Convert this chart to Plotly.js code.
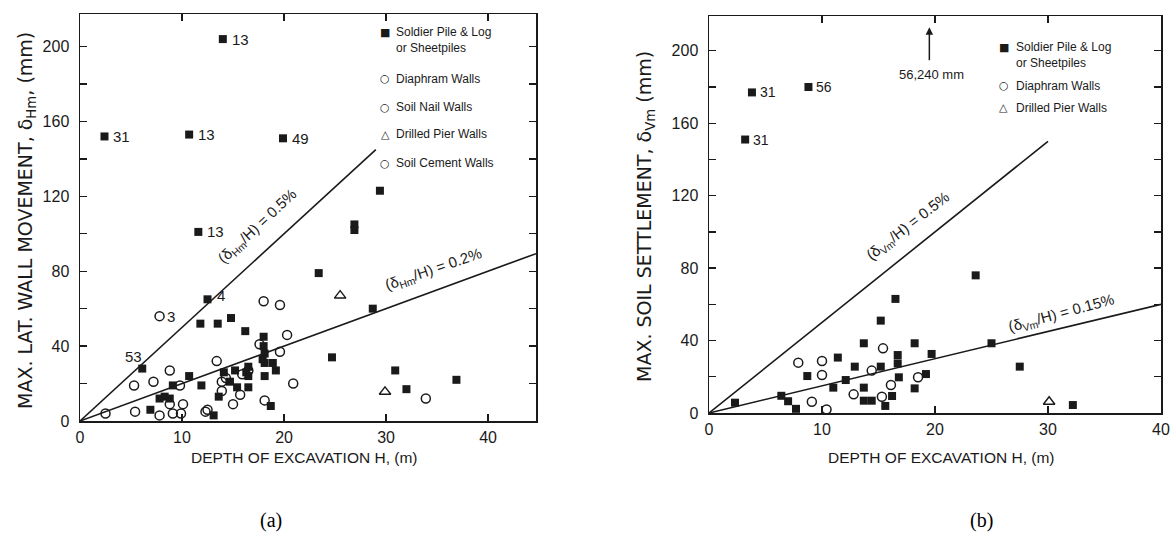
<!DOCTYPE html>
<html><head><meta charset="utf-8">
<script src="https://cdn.plot.ly/plotly-3.0.1.min.js"></script>
<style>html,body{margin:0;padding:0;background:#fff}#chart{width:1176px;height:548px}</style>
</head><body><div id="chart"></div>
<script>
// ---------- (a) lateral wall movement ----------
const aSoldierX = [14.0, 2.4, 10.7, 19.9, 29.4, 11.6, 26.9, 26.9, 23.4, 28.7, 12.5, 11.8, 13.5, 14.8, 16.2, 18.0, 24.7, 30.9, 32.0, 36.9, 6.1, 6.9, 7.8, 8.3, 8.8, 9.1, 10.7, 11.9, 13.1, 13.6, 14.1, 14.7, 15.2, 15.4, 16.3, 16.5, 16.5, 16.5, 18.1, 18.1, 18.1, 18.9, 19.2, 18.7, 18.0, 17.9];
const aSoldierY = [204, 152, 153, 151, 123, 101, 105, 102, 79, 60, 65, 52, 52, 55, 48, 45, 34, 27, 17, 22, 28, 6, 12, 13, 12, 19, 24, 19, 3, 13, 26, 21, 27, 18, 26, 29, 24, 18, 31, 24, 36, 31, 27, 8, 40, 33];
const aSoldierLabel = ['13', '31', '13', '49', '', '13', '', '', '', '', '4', '', '', '', '', '', '', '', '', '', '53'];
const aOpenX = [7.8, 18.0, 19.6, 20.3, 17.6, 19.6, 20.9, 13.4, 8.8, 7.2, 5.3, 9.8, 2.5, 5.4, 8.8, 10.1, 9.1, 9.9, 7.8, 12.3, 12.5, 13.9, 13.9, 15.0, 15.7, 15.9, 18.1, 33.9, 16.5, 14.3];
const aOpenY = [56, 64, 62, 46, 41, 37, 20, 32, 27, 21, 19, 19, 4, 5, 9, 9, 4, 4, 3, 5, 6, 21, 16, 9, 14, 25, 11, 12, 27, 23];
const aOpenLabel = ['3'];
const aPierX = [25.5, 29.9];
const aPierY = [67, 15.6];
const aLineHighX = [0, 29];
const aLineHighY = [0, 145];
const aLineLowX = [0, 44.7];
const aLineLowY = [0, 89.4];

// ---------- (b) soil settlement ----------
const bSoldierX = [3.8, 3.2, 8.8, 23.6, 16.5, 15.2, 13.7, 18.2, 25.0, 19.7, 27.5, 11.4, 8.7, 12.9, 15.2, 16.7, 16.7, 16.8, 12.1, 11.0, 13.7, 13.7, 14.4, 15.6, 16.2, 18.2, 19.2, 2.3, 6.4, 7.0, 7.7, 32.2];
const bSoldierY = [177, 151, 180, 76, 63, 51, 38.5, 38.5, 38.5, 32.6, 25.6, 30.6, 20.4, 25.6, 25.6, 32, 27.4, 19.7, 18.2, 14, 14, 6.8, 6.8, 3.9, 9.4, 13.6, 21.5, 5.7, 9.5, 6.5, 2.3, 4.4];
const bSoldierLabel = ['31', '31', '56'];
const bOpenX = [7.9, 10.0, 10.0, 15.4, 14.4, 12.8, 15.3, 16.1, 18.5, 9.1, 10.4];
const bOpenY = [27.8, 28.7, 21, 35.7, 23.4, 10.3, 9, 15.5, 19.7, 6.2, 2];
const bPierX = [30.1];
const bPierY = [6.2];
const bLineHighX = [0, 30];
const bLineHighY = [0, 150];
const bLineLowX = [0, 40];
const bLineLowY = [0, 60];
const bOffscaleX = 19.5;       // 56,240 mm arrow position (m)
const bOffscaleText = '56,240 mm';

const xTicks = [0, 10, 20, 30, 40];
const yTicks = [0, 40, 80, 120, 160, 200];

const W = 1176, H = 548;
const px = v => v / W, py = v => 1 - v / H;
const INK = '#1a1a1a';
const FONT = 'Liberation Sans, Arial, sans-serif';
const WIDE = 'DejaVu Sans, Liberation Sans, sans-serif';
const NARROW = 'Liberation Sans Narrow, Liberation Sans, Arial, sans-serif';

function sq(x, y, xa, ya) {
  return {x, y, xaxis: xa, yaxis: ya, type: 'scatter', mode: 'markers',
    marker: {symbol: 'square', size: 8, color: INK}, hoverinfo: 'skip', showlegend: false, cliponaxis: false};
}
function op(x, y, xa, ya) {
  return {x, y, xaxis: xa, yaxis: ya, type: 'scatter', mode: 'markers',
    marker: {symbol: 'circle-open', size: 9, color: INK, line: {width: 1.5, color: INK}}, hoverinfo: 'skip', showlegend: false};
}
function tri(x, y, xa, ya) {
  return {x, y, xaxis: xa, yaxis: ya, type: 'scatter', mode: 'markers',
    marker: {symbol: 'triangle-up-open', size: 10, color: INK, line: {width: 1.4, color: INK}}, hoverinfo: 'skip', showlegend: false};
}
function ln(x, y, xa, ya) {
  return {x, y, xaxis: xa, yaxis: ya, type: 'scatter', mode: 'lines',
    line: {color: INK, width: 1.6}, hoverinfo: 'skip', showlegend: false};
}

const data = [
  ln(aLineHighX, aLineHighY, 'x', 'y'), ln(aLineLowX, aLineLowY, 'x', 'y'),
  op(aOpenX, aOpenY, 'x', 'y'), tri(aPierX, aPierY, 'x', 'y'), sq(aSoldierX, aSoldierY, 'x', 'y'),
  ln(bLineHighX, bLineHighY, 'x2', 'y2'), ln(bLineLowX, bLineLowY, 'x2', 'y2'),
  op(bOpenX, bOpenY, 'x2', 'y2'), tri(bPierX, bPierY, 'x2', 'y2'), sq(bSoldierX, bSoldierY, 'x2', 'y2')
];

function xAx(domain, range, anchor) {
  return {domain, range, anchor, tickvals: xTicks, ticks: 'inside', ticklen: 7, tickwidth: 1.3, tickcolor: INK,
    showline: true, linecolor: INK, linewidth: 1.5, mirror: 'allticks', showgrid: false, zeroline: false,
    ticklabelstandoff: 1,
    tickfont: {family: NARROW, size: 16, color: INK}, fixedrange: true};
}
function yAx(domain, range, anchor) {
  return {domain, range, anchor, tickvals: yTicks, ticks: 'inside', ticklen: 7, tickwidth: 1.3, tickcolor: INK,
    minor: {dtick: 20, tick0: 0, ticks: 'inside', ticklen: 7, tickwidth: 1.3, tickcolor: INK},
    showline: true, linecolor: INK, linewidth: 1.5, mirror: 'allticks', showgrid: false, zeroline: false,
    ticklabelstandoff: 6,
    tickfont: {family: NARROW, size: 16, color: INK}, fixedrange: true};
}

const ann = [];
function txt(x, y, text, opts) {
  ann.push(Object.assign({x, y, text, showarrow: false, xref: 'paper', yref: 'paper', xanchor: 'center', yanchor: 'middle',
    font: {family: FONT, size: 12, color: INK}}, opts || {}));
}
// point labels
aSoldierLabel.forEach((t, i) => { if (t) ann.push({x: aSoldierX[i], y: aSoldierY[i], xref: 'x', yref: 'y', text: t, showarrow: false,
  xanchor: t === '53' ? 'right' : 'left', yanchor: 'middle', xshift: t === '53' ? 2 : 7, yshift: t === '53' ? 12 : (t === '4' ? 4 : 0),
  font: {family: NARROW, size: 15, color: INK}}); });
aOpenLabel.forEach((t, i) => ann.push({x: aOpenX[i], y: aOpenY[i], xref: 'x', yref: 'y', text: t, showarrow: false,
  xanchor: 'left', yanchor: 'middle', xshift: 5, font: {family: NARROW, size: 15, color: INK}}));
bSoldierLabel.forEach((t, i) => ann.push({x: bSoldierX[i], y: bSoldierY[i], xref: 'x2', yref: 'y2', text: t, showarrow: false,
  xanchor: 'left', yanchor: 'middle', xshift: 6, font: {family: NARROW, size: 14, color: INK}}));
// line labels
ann.push({x: 17.4, y: 104, xref: 'x', yref: 'y', text: '(δ<sub>Hm</sub>/H) = 0.5%', showarrow: false, textangle: -43,
  font: {family: NARROW, size: 15, color: INK}});
ann.push({x: 34.7, y: 81, xref: 'x', yref: 'y', text: '(δ<sub>Hm</sub>/H) = 0.2%', showarrow: false, textangle: -19,
  font: {family: NARROW, size: 15, color: INK}});
ann.push({x: 17.6, y: 103, xref: 'x2', yref: 'y2', text: '(δ<sub>Vm</sub>/H) = 0.5%', showarrow: false, textangle: -38,
  font: {family: NARROW, size: 15, color: INK}});
ann.push({x: 31.2, y: 55, xref: 'x2', yref: 'y2', text: '(δ<sub>Vm</sub>/H) = 0.15%', showarrow: false, textangle: -15,
  font: {family: NARROW, size: 15, color: INK}});
// off-scale arrow
ann.push({x: bOffscaleX, y: 213, xref: 'x2', yref: 'y2', ax: bOffscaleX, ay: 194, axref: 'x2', ayref: 'y2', text: '',
  showarrow: true, arrowhead: 2, arrowsize: 1, arrowwidth: 1.5, arrowcolor: INK});
ann.push({x: bOffscaleX + 0.2, y: 187, xref: 'x2', yref: 'y2', text: bOffscaleText, showarrow: false,
  font: {family: NARROW, size: 13, color: INK}});
// legends (a)
const legA = [['■', 'Soldier Pile & Log', 32], ['', 'or Sheetpiles', 48], ['○', 'Diaphram Walls', 79],
  ['○', 'Soil Nail Walls', 107], ['△', 'Drilled Pier Walls', 134], ['○', 'Soil Cement Walls', 163]];
legA.forEach(r => { if (r[0]) txt(px(385), py(r[2]), r[0], {font: {family: 'DejaVu Sans', size: 11, color: INK}});
  txt(px(394), py(r[2]), r[1], {xanchor: 'left'}); });
const legB = [['■', 'Soldier Pile & Log', 47], ['', 'or Sheetpiles', 63], ['○', 'Diaphram Walls', 86], ['△', 'Drilled Pier Walls', 108]];
legB.forEach(r => { if (r[0]) txt(px(1004), py(r[2]), r[0], {font: {family: 'DejaVu Sans', size: 11, color: INK}});
  txt(px(1014), py(r[2]), r[1], {xanchor: 'left'}); });
// axis titles
txt(px(27), py(221), 'MAX. LAT. WALL MOVEMENT, δ<sub>Hm</sub>, (mm)', {textangle: -90, font: {family: WIDE, size: 19, color: INK}});
txt(px(645), py(217), 'MAX. SOIL SETTLEMENT, δ<sub>Vm</sub> (mm)', {textangle: -90, font: {family: WIDE, size: 19, color: INK}});
txt(px(304), py(457), 'DEPTH OF EXCAVATION H, (m)', {font: {family: FONT, size: 15.5, color: INK}});
txt(px(941), py(457), 'DEPTH OF EXCAVATION H, (m)', {font: {family: FONT, size: 15.5, color: INK}});
txt(px(271), py(520), '(a)', {font: {family: 'Liberation Serif, Times New Roman, serif', size: 20, color: '#000'}});
txt(px(981), py(520), '(b)', {font: {family: 'Liberation Serif, Times New Roman, serif', size: 20, color: '#000'}});

const layout = {
  width: W, height: H, margin: {l: 0, r: 0, t: 0, b: 0}, paper_bgcolor: '#fff', plot_bgcolor: '#fff',
  showlegend: false,
  xaxis: xAx([px(80), px(536)], [0, 44.7], 'y'),
  yaxis: yAx([py(421), py(14)], [0, 217.4], 'x'),
  xaxis2: xAx([px(709), px(1161)], [0, 40], 'y2'),
  yaxis2: yAx([py(413), py(16)], [0, 219.2], 'x2'),
  annotations: ann
};
Plotly.newPlot('chart', data, layout, {staticPlot: true, displayModeBar: false});
</script></body></html>
